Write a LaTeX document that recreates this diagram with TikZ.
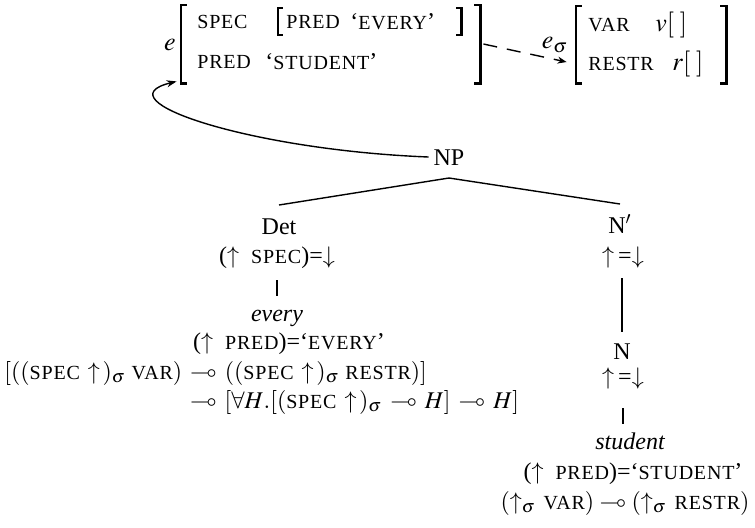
\documentclass[tikz,border=0pt]{standalone}
\usepackage{mathptmx}
\usepackage{amssymb}
\usepackage{fontspec}
\setmainfont{Liberation Serif}
\usetikzlibrary{arrows.meta}
\newcommand{\lfgsc}[1]{{\fontsize{10}{11}\selectfont\addfontfeatures{LetterSpace=4}#1}}
\newcommand{\lolli}{\mathrel{\,\multimap\,}}
\begin{document}
\begin{tikzpicture}[x=0.5pt,y=-0.5pt,
  every node/.style={font=\fontsize{12}{14}\selectfont, inner sep=0pt},
  tree/.style={text height=8pt, text depth=0pt, outer xsep=2.5pt, outer ysep=6.5pt},
  fsbox/.style={draw=none, inner sep=0pt},
  brk/.style={line width=1.1pt},
  edge/.style={line width=0.7pt},
  tip/.style={-{Stealth[length=5pt,width=3.5pt]}}]
\useasboundingbox (0,0) rectangle (755,527);

% feature structures (bracket frames)
\node[fsbox, minimum width=149.5pt, minimum height=39pt] (fsA) at (330.5,44) {};
\node[fsbox, minimum width=91.5pt, minimum height=13pt] (fsI) at (369.5,21.5) {};
\node[fsbox, minimum width=75pt, minimum height=38.5pt] (fsB) at (651,44.5) {};
\foreach \b/\t in {fsA/3pt, fsI/2.5pt, fsB/3pt}{
  \draw[brk] ([xshift=\t]\b.north west) -- (\b.north west) -- (\b.south west) -- ([xshift=\t]\b.south west);
  \draw[brk] ([xshift=-\t]\b.north east) -- (\b.north east) -- (\b.south east) -- ([xshift=-\t]\b.south east);
}
\node[font=\fontsize{13}{15}\selectfont] (e) at (170,45) {$e$};
\node[anchor=west] (aspec) at (197,22) {\lfgsc{SPEC}};
\node[anchor=west] (ipred) at (286,22) {\lfgsc{PRED}};
\node[anchor=west] (ievery) at (350,22) {`\lfgsc{EVERY}'};
\node[anchor=west] (apred) at (197,62) {\lfgsc{PRED}};
\node[anchor=west] (astudent) at (265,62) {`\lfgsc{STUDENT}'};
\node[anchor=west] (bvar) at (588,25) {\lfgsc{VAR}};
\node[anchor=west, font=\fontsize{13}{15}\selectfont] (bv) at (655,25) {$v[\;]$};
\node[anchor=west] (brestr) at (588,64) {\lfgsc{RESTR}};
\node[anchor=west, font=\fontsize{13}{15}\selectfont] (br) at (672,64) {$r[\;]$};

\draw[edge, dash pattern=on 7pt off 5pt, -{Stealth[length=4.5pt,width=3.5pt]}]
  ([xshift=1.5pt]fsA.east) -- ([xshift=-4.5pt,yshift=-8.75pt]fsB.west);
\node[font=\fontsize{13}{15}\selectfont] (esig) at (555,45) {$e_\sigma$};

% tree
\node[tree] (np) at (449,157) {NP};
\node[tree] (det) at (279,226) {Det};
\node[tree] (nbar) at (620,225) {N$'$};
\draw[edge] (np.south) -- (det.north);
\draw[edge] (np.south) -- (nbar.north);
\draw[edge, tip] (np.west) .. controls (250,150) and (100,100) .. ([xshift=-2pt,yshift=1pt]fsA.south west);

% Det column
\node (dspec) at (277,258) {($\uparrow$\enspace\lfgsc{SPEC})=$\downarrow$};
\node (every) at (277,318) {\itshape every};
\draw[edge, shorten <=11pt, shorten >=11pt] (dspec.center) -- (dspec.center |- every.center);
\node (dpred) at (289,344) {($\uparrow$\enspace\lfgsc{PRED})=`\lfgsc{EVERY}'};
\node[anchor=west] (f1) at (4,373) {$[((\mbox{\lfgsc{SPEC}}\,\uparrow\,)_\sigma\ \mbox{\lfgsc{VAR}})\lolli((\mbox{\lfgsc{SPEC}}\,\uparrow\,)_\sigma\ \mbox{\lfgsc{RESTR}})]$};
\node[anchor=west] (f2) at (187,402) {$\lolli[\forall H.[(\mbox{\lfgsc{SPEC}}\,\uparrow\,)_\sigma \lolli H]\lolli H]$};

% N' column
\node (nbeq) at (623,257) {$\uparrow$\,=$\downarrow$};
\node[tree] (nn) at (622,351) {N};
\draw[edge, shorten <=10.5pt, shorten >=9.5pt] (nn.center |- nbeq.center) -- (nn.center);
\node (nneq) at (623,378) {$\uparrow$\,=$\downarrow$};
\node (student) at (630,441) {\itshape student};
\draw[edge, shorten <=15pt, shorten >=8.5pt] (nneq.center) -- (nneq.center |- student.center);
\node (npred) at (633,474) {($\uparrow$\enspace\lfgsc{PRED})=`\lfgsc{STUDENT}'};
\node (nlast) at (625,503) {$(\uparrow_\sigma\,\mbox{\lfgsc{VAR}})\mathrel{\multimap}(\uparrow_\sigma\,\mbox{\lfgsc{RESTR}})$};
\end{tikzpicture}
\end{document}
